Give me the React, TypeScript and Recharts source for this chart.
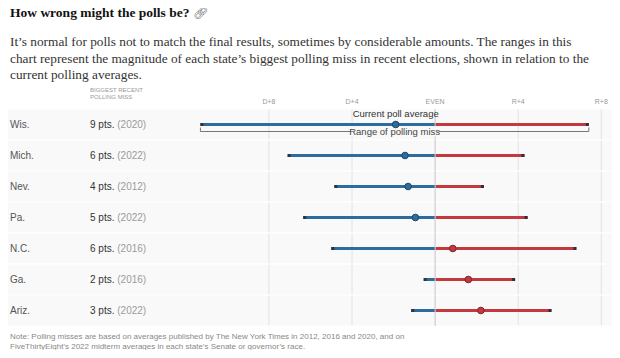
import React from 'react'
import {
  ComposedChart, Bar, Line, XAxis, YAxis, CartesianGrid,
  ReferenceArea, ReferenceLine,
} from 'recharts'

// states, top to bottom
const states = ['Wis.', 'Mich.', 'Nev.', 'Pa.', 'N.C.', 'Ga.', 'Ariz.']
const missPts = [9, 6, 4, 5, 6, 2, 3]
const missYear = ['2020', '2022', '2012', '2022', '2016', '2016', '2022']
// margin in pts, negative = Democratic lead
const pollAvg = [-1.9, -1.45, -1.3, -0.95, 0.85, 1.6, 2.2]
const rangeLow = [-11.3, -7.1, -4.85, -6.35, -5.0, -0.55, -1.15]
const rangeHigh = [7.4, 4.3, 2.35, 4.45, 6.8, 3.85, 5.6]

const xTicks = [-8, -4, 0, 4, 8]
const xTickLabels = ['D+8', 'D+4', 'EVEN', 'R+4', 'R+8']

const BLUE = '#2c6c9e'
const RED = '#c23a3f'
const SANS = '"Liberation Sans", Arial, sans-serif'
const SERIF = '"Liberation Serif", "Times New Roman", serif'

const rows = states.map((s, i) => ({
  state: s,
  avg: pollAvg[i],
  dem: [rangeLow[i], Math.min(rangeHigh[i], 0)],
  rep: [Math.max(rangeLow[i], 0), rangeHigh[i]],
}))

function RangeShape(props: any) {
  const { x, y, width, height, fill, side } = props
  if (width == null || isNaN(width)) return null
  const x0 = width < 0 ? x + width : x
  const w = Math.abs(width)
  const cap = 3
  return (
    <g>
      <rect x={x0} y={y} width={w} height={height} fill={fill} />
      {side === 'dem'
        ? <rect x={x0} y={y} width={Math.min(cap, w)} height={height} fill="#2b3440" />
        : <rect x={x0 + w - Math.min(cap, w)} y={y} width={Math.min(cap, w)} height={height} fill="#3a2b30" />}
    </g>
  )
}

function AvgDot(props: any) {
  const { cx, cy, index, payload } = props
  if (cx == null || cy == null) return null
  const rep = payload.avg > 0
  return (
    <g key={`dot-${index}`}>
      <circle cx={cx} cy={cy} r={3.3} fill={rep ? RED : BLUE} stroke={rep ? '#7e2226' : '#1c4566'} strokeWidth={1} />
      {index === 0 && (
        <text x={cx} y={cy - 8} textAnchor="middle" fontSize={9.5} fill="#333" fontFamily={SANS}>
          Current poll average
        </text>
      )}
    </g>
  )
}

function StateTick(props: any) {
  const { y, payload } = props
  const i = states.indexOf(payload?.value)
  if (i < 0) return null
  return (
    <g>
      <text x={10} y={y} dy={3.5} fontSize={10} fill="#555" fontFamily={SANS}>{states[i]}</text>
      <text x={90} y={y} dy={3.5} fontSize={10} fontFamily={SANS}>
        <tspan fill="#333">{missPts[i]} pts.</tspan>
        <tspan fill="#999"> ({missYear[i]})</tspan>
      </text>
    </g>
  )
}

function Bracket(props: any) {
  const { x1, x2, y1 } = props
  if (x1 == null) return null
  const y = y1 + 7
  const mid = (x1 + x2) / 2
  return (
    <g>
      <path d={`M${x1},${y - 4}V${y}H${x2}V${y - 4}`} fill="none" stroke="#777" strokeWidth={1} />
      <rect x={mid - 44} y={y - 5} width={88} height={10} fill="#f8f8f8" />
      <text x={mid} y={y} dy={3.3} textAnchor="middle" fontSize={9.5} fill="#444" fontFamily={SANS}>
        Range of polling miss
      </text>
    </g>
  )
}

export default function App() {
  return (
    <div style={{ position: 'relative', width: 620, height: 358, margin: -8, background: '#fff', overflow: 'hidden' }}>
      <div style={{ position: 'absolute', left: 10, top: 5, fontFamily: SERIF, fontWeight: 700, fontSize: 13.5, color: '#121212', whiteSpace: 'nowrap' }}>
        How wrong might the polls be? <span style={{ fontWeight: 400, fontSize: 12, color: '#666' }}>🔗︎</span>
      </div>
      <div style={{ position: 'absolute', left: 10, top: 34, fontFamily: SERIF, fontSize: 13.3, lineHeight: '16.5px', color: '#333', whiteSpace: 'nowrap' }}>
        <div>It’s normal for polls not to match the final results, sometimes by considerable amounts. The ranges in this</div>
        <div>chart represent the magnitude of each state’s biggest polling miss in recent elections, shown in relation to the</div>
        <div>current polling averages.</div>
      </div>
      <div style={{ position: 'absolute', left: 90, top: 87, fontFamily: SANS, fontSize: 6, lineHeight: '7px', color: '#999' }}>
        BIGGEST RECENT<br />POLLING MISS
      </div>

      <div style={{ position: 'absolute', left: 0, top: 88 }}>
        <ComposedChart
          width={620}
          height={238}
          data={rows}
          layout="vertical"
          margin={{ top: 0, right: 0, bottom: 0, left: 0 }}
          barGap={-3}
        >
          <CartesianGrid horizontal={false} stroke="#e8e8e8" />
          {states.map(s => (
            <ReferenceArea key={s} y1={s} y2={s} fill="#000" fillOpacity={0.025} stroke="#fff" strokeWidth={1} />
          ))}
          <XAxis
            type="number"
            orientation="top"
            domain={[-20.9, 8.9]}
            allowDataOverflow
            ticks={xTicks}
            tickFormatter={(v: number) => xTickLabels[xTicks.indexOf(v)]}
            tick={{ fontSize: 7, fill: '#999', fontFamily: SANS }}
            axisLine={false}
            tickLine={false}
            tickSize={0}
            tickMargin={5}
            height={21}
          />
          <YAxis
            type="category"
            dataKey="state"
            width={1}
            axisLine={false}
            tickLine={false}
            interval={0}
            tick={(p: any) => <StateTick {...p} />}
          />
          <ReferenceLine x={0} stroke="#cfcfcf" strokeWidth={1} />
          <Bar dataKey="dem" fill={BLUE} barSize={3} isAnimationActive={false} shape={(p: any) => <RangeShape {...p} side="dem" />} />
          <Bar dataKey="rep" fill={RED} barSize={3} isAnimationActive={false} shape={(p: any) => <RangeShape {...p} side="rep" />} />
          <ReferenceLine
            segment={[{ x: rangeLow[0], y: states[0] }, { x: rangeHigh[0], y: states[0] }]}
            shape={(p: any) => <Bracket {...p} />}
          />
          <Line dataKey="avg" stroke="none" isAnimationActive={false} dot={(p: any) => <AvgDot {...p} />} activeDot={false} />
        </ComposedChart>
      </div>

      <div style={{ position: 'absolute', left: 10, top: 332, fontFamily: SANS, fontSize: 8, lineHeight: '10px', color: '#888', whiteSpace: 'nowrap' }}>
        <div>Note: Polling misses are based on averages published by The New York Times in 2012, 2016 and 2020, and on</div>
        <div>FiveThirtyEight’s 2022 midterm averages in each state’s Senate or governor’s race.</div>
      </div>
    </div>
  )
}
